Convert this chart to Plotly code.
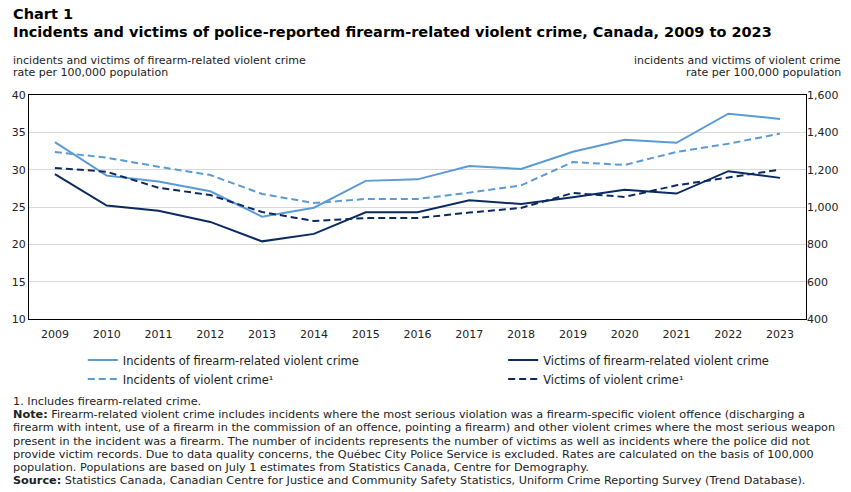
import plotly.graph_objects as go

years = [str(y) for y in range(2009, 2024)]
inc_firearm = [33.7, 29.2, 28.4, 27.1, 23.7, 24.9, 28.5, 28.7, 30.5, 30.1, 32.4, 34.0, 33.6, 37.5, 36.8]
vic_firearm = [29.4, 25.2, 24.5, 23.0, 20.4, 21.4, 24.3, 24.3, 25.9, 25.4, 26.3, 27.3, 26.8, 29.8, 28.9]
inc_violent = [1295, 1264, 1216, 1171, 1070, 1021, 1043, 1043, 1077, 1116, 1241, 1225, 1295, 1339, 1393]
vic_violent = [1209, 1189, 1103, 1064, 973, 925, 941, 941, 970, 995, 1075, 1054, 1116, 1157, 1200]

LIGHT = "#5b9bd5"
DARK = "#0b2a62"
FONT = "DejaVu Sans"
TXTC = "#222"

W, H = 851, 492
l, r, t, b = 26, 45, 95, 173
pw, ph = W - l - r, H - t - b

def px(x):
    return (x - l) / pw

def py(y):
    return (H - b - y) / ph

fig = go.Figure()
fig.add_trace(go.Scatter(x=years, y=inc_firearm, mode="lines", name="Incidents of firearm-related violent crime",
                         legend="legend", line=dict(color=LIGHT, width=2)))
fig.add_trace(go.Scatter(x=years, y=vic_firearm, mode="lines", name="Victims of firearm-related violent crime",
                         legend="legend2", line=dict(color=DARK, width=2)))
fig.add_trace(go.Scatter(x=years, y=inc_violent, mode="lines", name="Incidents of violent crime¹", yaxis="y2",
                         legend="legend", line=dict(color=LIGHT, width=2, dash="7px,4px")))
fig.add_trace(go.Scatter(x=years, y=vic_violent, mode="lines", name="Victims of violent crime¹", yaxis="y2",
                         legend="legend2", line=dict(color=DARK, width=2, dash="7px,4px")))

note_lines = [
    "1. Includes firearm-related crime.",
    "<b>Note:</b> Firearm-related violent crime includes incidents where the most serious violation was a firearm-specific violent offence (discharging a",
    "firearm with intent, use of a firearm in the commission of an offence, pointing a firearm) and other violent crimes where the most serious weapon",
    "present in the incident was a firearm. The number of incidents represents the number of victims as well as incidents where the police did not",
    "provide victim records. Due to data quality concerns, the Québec City Police Service is excluded. Rates are calculated on the basis of 100,000",
    "population. Populations are based on July 1 estimates from Statistics Canada, Centre for Demography.",
    "<b>Source:</b> Statistics Canada, Canadian Centre for Justice and Community Safety Statistics, Uniform Crime Reporting Survey (Trend Database).",
]
note_y = [401, 414, 427.5, 441, 454, 467.5, 480.5]

annotations = [
    dict(text="<b>Chart 1</b>", x=px(8), y=py(14), xanchor="left", yanchor="middle",
         font=dict(family=FONT, size=14.5, color="black")),
    dict(text="<b>Incidents and victims of police-reported firearm-related violent crime, Canada, 2009 to 2023</b>",
         x=px(8), y=py(32), xanchor="left", yanchor="middle",
         font=dict(family=FONT, size=14.5, color="black")),
    dict(text="incidents and victims of firearm-related violent crime", x=px(8), y=py(60),
         xanchor="left", yanchor="middle", font=dict(family=FONT, size=11, color=TXTC)),
    dict(text="rate per 100,000 population", x=px(8), y=py(73),
         xanchor="left", yanchor="middle", font=dict(family=FONT, size=11, color=TXTC)),
    dict(text="incidents and victims of violent crime", x=px(843), y=py(60),
         xanchor="right", yanchor="middle", font=dict(family=FONT, size=11, color=TXTC)),
    dict(text="rate per 100,000 population", x=px(843), y=py(73),
         xanchor="right", yanchor="middle", font=dict(family=FONT, size=11, color=TXTC)),
]
for txt, yy in zip(note_lines, note_y):
    annotations.append(dict(text=txt, x=px(8), y=py(yy), xanchor="left", yanchor="middle",
                            font=dict(family=FONT, size=11.25, color=TXTC)))
for a in annotations:
    a.update(xref="paper", yref="paper", showarrow=False, align="left")

leg_common = dict(orientation="v", yanchor="top", xanchor="left", bgcolor="rgba(0,0,0,0)",
                  font=dict(family=FONT, size=11.5, color=TXTC), itemwidth=30, tracegroupgap=0)

fig.update_layout(
    width=W, height=H,
    margin=dict(l=l, r=r, t=t, b=b),
    paper_bgcolor="white", plot_bgcolor="white",
    font=dict(family=FONT, size=11, color=TXTC),
    showlegend=True,
    legend=dict(x=px(80), y=py(345.5), **leg_common),
    legend2=dict(x=px(502), y=py(345.5), **leg_common),
    xaxis=dict(type="category", range=[-0.5, 14.5], showline=True, linecolor="black", linewidth=1, mirror=True,
               showgrid=False, ticks="outside", ticklen=5, tickcolor="rgba(0,0,0,0)",
               tickfont=dict(family=FONT, size=11, color=TXTC)),
    yaxis=dict(range=[10, 40], dtick=5, showline=True, linecolor="black", linewidth=1, mirror=True,
               gridcolor="#d9d9d9", gridwidth=1, zeroline=False, ticks="",
               tickfont=dict(family=FONT, size=11, color=TXTC)),
    yaxis2=dict(range=[400, 1600], dtick=200, overlaying="y", side="right", showgrid=False,
                tickformat=",", ticks="", zeroline=False, showline=False,
                tickfont=dict(family=FONT, size=11, color=TXTC)),
    annotations=annotations,
)

fig.write_html("out.html")
